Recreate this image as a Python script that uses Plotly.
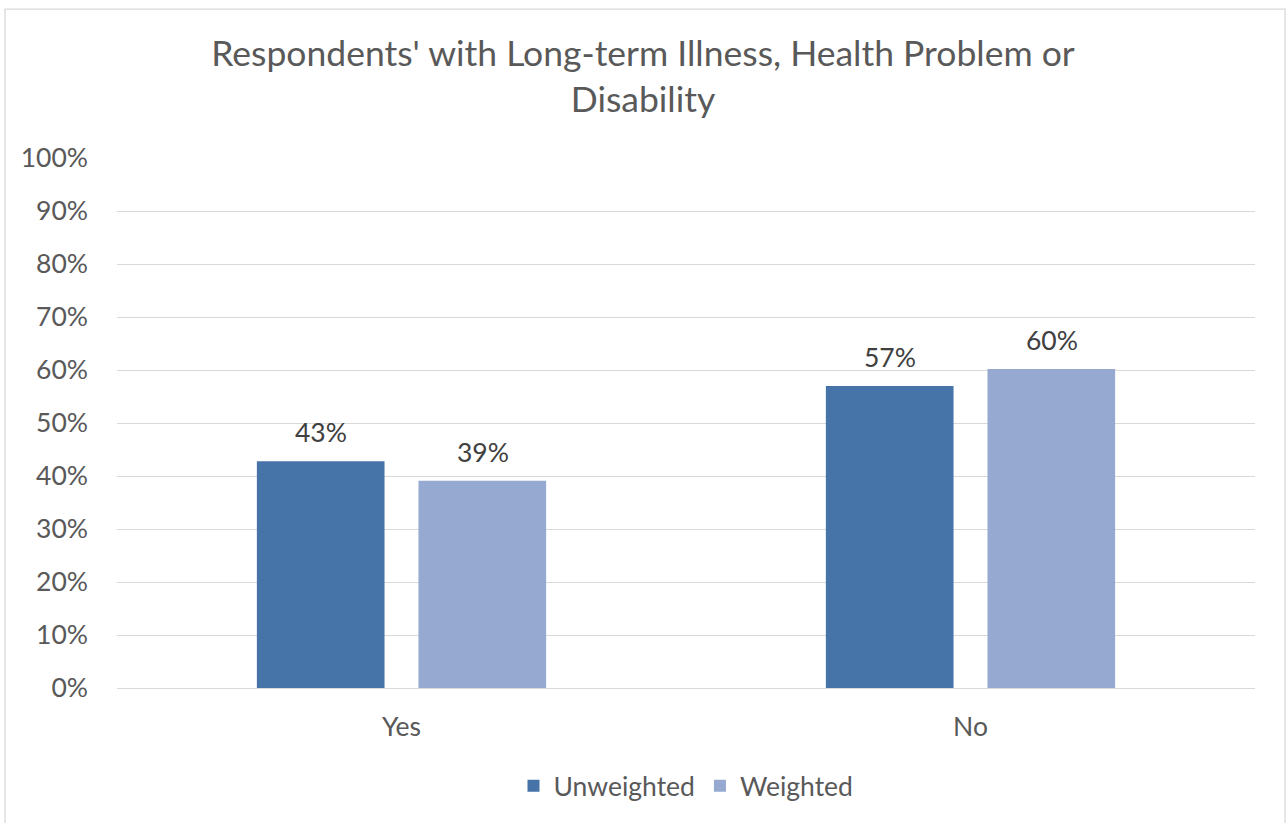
import plotly.graph_objects as go

categories = ["Yes", "No"]
unweighted = [42.8, 57.0]
weighted = [39.1, 60.2]
series_names = ["Unweighted", "Weighted"]
y_ticks = list(range(0, 101, 10))
y_tick_labels = [f"{v}%" for v in y_ticks]

TEXT = "#595959"
FONT = "Lato"
SIZE = 26.5

fig = go.Figure()
series = [(series_names[0], unweighted, "#4673a8", -81),
          (series_names[1], weighted, "#95a9d1", 81)]
for name, vals, color, _ in series:
    fig.add_trace(go.Bar(
        x=categories, y=vals, name=name,
        marker=dict(color=color, line=dict(width=0)),
    ))

# value labels above each bar, offset to the bar's slot within the group
for name, vals, color, dx in series:
    for cat, v in zip(categories, vals):
        fig.add_annotation(
            x=cat, y=v, xref="x", yref="y", text=f"{round(v)}%",
            showarrow=False, xanchor="center", yanchor="bottom",
            xshift=dx, yshift=11,
            font=dict(family=FONT, size=SIZE, color="#404040"),
        )

fig.update_layout(
    width=1286, height=823,
    margin=dict(l=117, r=31, t=158, b=135),
    paper_bgcolor="white", plot_bgcolor="white",
    barmode="group", bargap=0.432, bargroupgap=0.21,
    title=dict(
        text="Respondents' with Long-term Illness, Health Problem or<br>Disability",
        x=0.5, xanchor="center", y=0.9195, yanchor="top",
        font=dict(family=FONT, size=35.5, color=TEXT),
    ),
    font=dict(family=FONT, color=TEXT),
    xaxis=dict(showgrid=False, showline=False, ticks="", ticklabelstandoff=20,
               tickfont=dict(family=FONT, size=SIZE, color=TEXT)),
    yaxis=dict(range=[0, 100], tickvals=y_ticks, ticktext=y_tick_labels,
               showgrid=True, gridcolor="#d9d9d9", gridwidth=1.3,
               zeroline=True, zerolinecolor="#d9d9d9", zerolinewidth=1.3,
               showline=False, ticks="", ticklabelstandoff=28,
               tickfont=dict(family=FONT, size=SIZE, color=TEXT)),
    legend=dict(orientation="h", x=0.5, xanchor="center", y=-0.185, yanchor="middle",
                font=dict(family=FONT, size=SIZE, color=TEXT), itemwidth=30,
                traceorder="normal"),
    showlegend=True,
)

fig.add_shape(type="rect", xref="paper", yref="paper",
              x0=-0.0984, x1=1.0264, y0=-0.27, y1=1.281,
              line=dict(color="#d9d9d9", width=1.3), fillcolor="rgba(0,0,0,0)", layer="below")

fig.write_html("out.html")
